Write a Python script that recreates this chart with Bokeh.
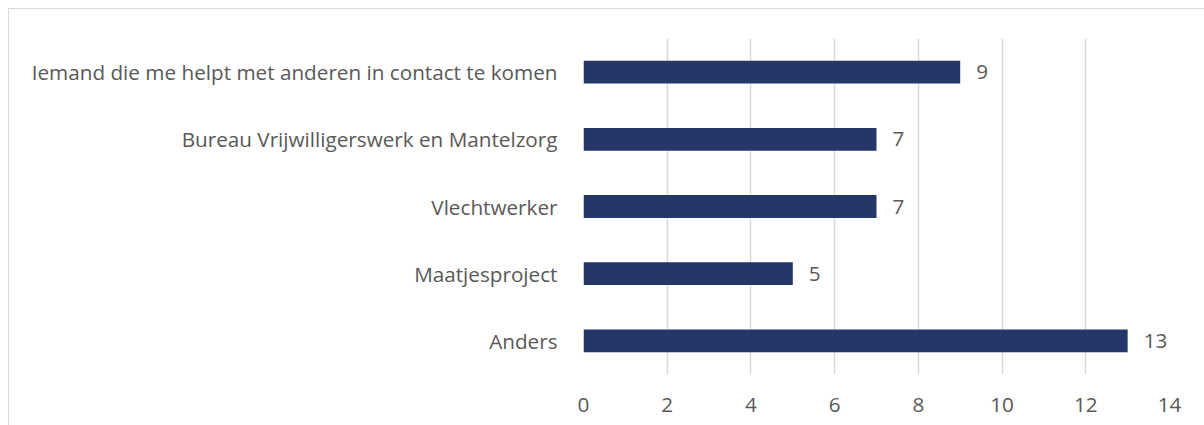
from bokeh.plotting import figure
from bokeh.models import Range1d, FixedTicker, ColumnDataSource
from bokeh.core.properties import value
from bokeh.embed import file_html
from bokeh.resources import INLINE

categories = [
    "Iemand die me helpt met anderen in contact te komen",
    "Bureau Vrijwilligerswerk en Mantelzorg",
    "Vlechtwerker",
    "Maatjesproject",
    "Anders",
]
counts = [9, 7, 7, 5, 13]
x_ticks = [0, 2, 4, 6, 8, 10, 12, 14]

FONT = "Open Sans"
FSIZE = "20.7px"
TXT = "#595959"

src = ColumnDataSource(dict(cat=categories, n=counts, lab=[str(c) for c in counts]))

p = figure(
    width=1196, height=417,
    y_range=list(reversed(categories)),
    x_range=Range1d(0, 14),
    output_backend="svg", toolbar_location=None,
    min_border_left=574, min_border_right=36,
    min_border_top=29, min_border_bottom=52,
)
p.styles = {"margin-left": "8px", "margin-top": "8px",
            "border-left": "1px solid #d9d9d9", "border-top": "1px solid #d9d9d9"}
p.outline_line_color = None

p.hbar(y="cat", right="n", left=0, height=0.34, source=src,
       fill_color="#253668", line_color=None)
p.text(x="n", y="cat", text="lab", source=src, x_offset=16,
       text_baseline="middle", text_align="left",
       text_font=value(FONT), text_font_size=FSIZE, text_color=TXT)

p.xaxis.ticker = FixedTicker(ticks=x_ticks)
for ax in (p.xaxis[0], p.yaxis[0]):
    ax.axis_line_color = None
    ax.major_tick_line_color = None
    ax.minor_tick_line_color = None
    ax.major_label_text_font = FONT
    ax.major_label_text_font_size = FSIZE
    ax.major_label_text_color = TXT
p.xaxis.major_label_standoff = 17
p.yaxis.major_label_standoff = 20

p.xgrid.ticker = FixedTicker(ticks=x_ticks)
p.xgrid.grid_line_color = "#d9d9d9"
p.xgrid.grid_line_width = 1.5
p.ygrid.grid_line_color = None

open("out.html", "w").write(file_html(p, INLINE))
